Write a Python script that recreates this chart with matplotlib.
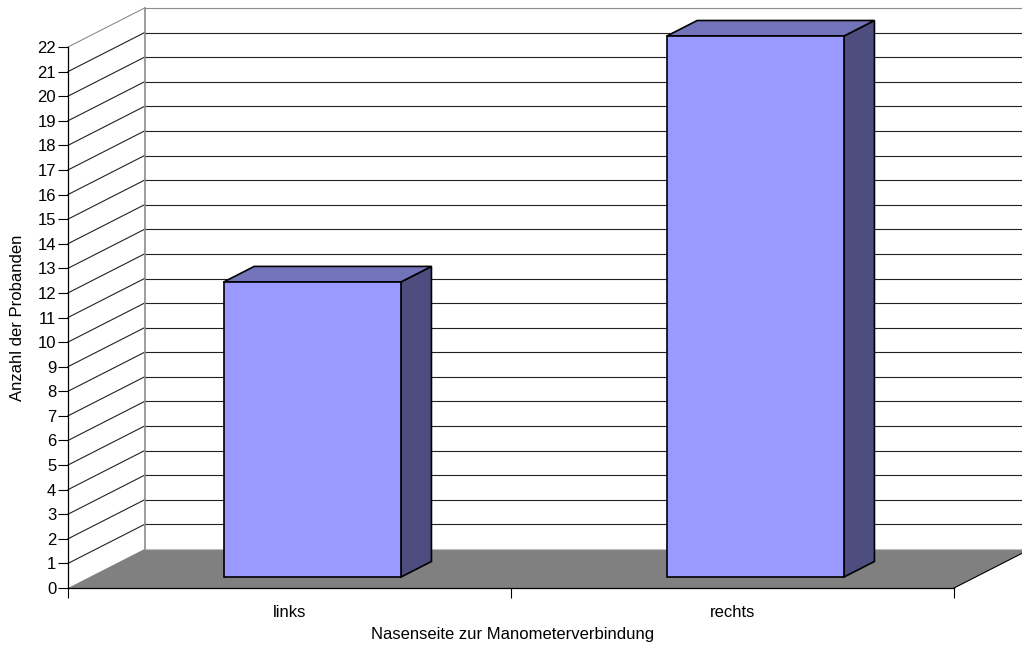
import matplotlib
matplotlib.use('Agg')
from matplotlib import pyplot as plt
from matplotlib.patches import Polygon

categories = ['links', 'rechts']
counts = [12, 22]
y_ticks = list(range(0, 23))

x_label = 'Nasenseite zur Manometerverbindung'
y_label = 'Anzahl der Probanden'

plt.rcParams['font.family'] = ['Liberation Sans', 'DejaVu Sans']
font_size = 12

# depth of the fake 3d box, in data units
depth_x = 76.5 / 443
depth_y = 39 / 24.6
bar_width = 0.4
bar_depth = (0.28, 0.68)
bar_shift = 0.003
wall_color = '#8c8c8c'


def project(x, y, d):
    return (x + d * depth_x, y + d * depth_y)


fig = plt.figure(figsize=(10.22, 6.46), dpi=100)
ax = fig.add_axes([68 / 1022, (646 - 588) / 646, 886 / 1022, 541 / 646])
ax.set_xlim(0, len(categories))
ax.set_ylim(0, max(y_ticks))
ax.patch.set_visible(False)

# floor
floor = [project(0, 0, 0), project(2, 0, 0), project(2, 0, 1), project(0, 0, 1)]
ax.add_patch(Polygon(floor, closed=True, facecolor='#808080', edgecolor='none', zorder=1, clip_on=False))
ax.plot(*zip(project(2, 0, 0), project(2, 0, 1)), color='black', lw=0.8, zorder=1.5, clip_on=False)

# grid lines on side and back wall
for v in y_ticks:
    color = wall_color if v == max(y_ticks) else '#222222'
    if v > 0:
        ax.plot(*zip(project(0, v, 0), project(0, v, 1)), color=color, lw=0.8, zorder=1.2, clip_on=False)
        ax.plot(*zip(project(0, v, 1), project(2, v, 1)), color=color, lw=0.8, zorder=1.2, clip_on=False)
ax.plot(*zip(project(0, 0, 1), project(2, 0, 1)), color='#c0c0c0', lw=0.8, zorder=1.1, clip_on=False)
ax.plot(*zip(project(0, 0, 1), project(0, max(y_ticks), 1)), color=wall_color, lw=1.2, zorder=1.3, clip_on=False)

# bars
for i, value in enumerate(counts):
    x0 = i + 0.5 - bar_width / 2 + bar_shift
    x1 = i + 0.5 + bar_width / 2 + bar_shift
    d0, d1 = bar_depth
    front = [project(x0, 0, d0), project(x1, 0, d0), project(x1, value, d0), project(x0, value, d0)]
    top = [project(x0, value, d0), project(x1, value, d0), project(x1, value, d1), project(x0, value, d1)]
    side = [project(x1, 0, d0), project(x1, 0, d1), project(x1, value, d1), project(x1, value, d0)]
    for pts, fc in ((side, '#4d4d80'), (top, '#7373b9'), (front, '#9999ff')):
        ax.add_patch(Polygon(pts, closed=True, facecolor=fc, edgecolor='black', lw=1.2,
                             joinstyle='miter', zorder=3, clip_on=False))

# axes
for name in ('top', 'right'):
    ax.spines[name].set_visible(False)
for name in ('left', 'bottom'):
    ax.spines[name].set_linewidth(0.9)
    ax.spines[name].set_zorder(4)

ax.set_yticks(y_ticks)
ax.tick_params(axis='y', length=7, width=0.8, pad=1.5, labelsize=font_size)
ax.set_xticks([0, 1, 2])
ax.set_xticklabels([])
ax.tick_params(axis='x', length=7, width=0.8)
ax.set_xticks([0.5, 1.5], minor=True)
ax.set_xticklabels(categories, minor=True, fontsize=font_size)
ax.tick_params(axis='x', which='minor', length=0, pad=12)

fig.text(513 / 1022, 1 - 634 / 646, x_label, ha='center', va='center', fontsize=font_size)
fig.text(17.5 / 1022, 1 - 317.5 / 646, y_label, ha='center', va='center', rotation=90, fontsize=font_size)

fig.savefig('out.png', dpi=100)
